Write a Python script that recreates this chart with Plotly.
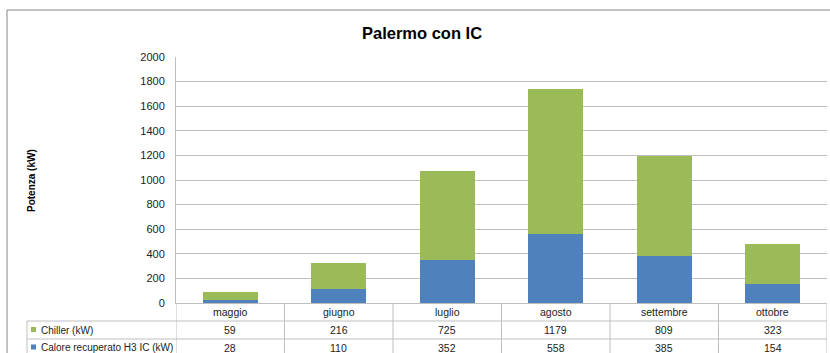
import plotly.graph_objects as go

# Monthly data (kW)
months = ["maggio", "giugno", "luglio", "agosto", "settembre", "ottobre"]
chiller = [59, 216, 725, 1179, 809, 323]
calore = [28, 110, 352, 558, 385, 154]
series_names = ["Chiller (kW)", "Calore recuperato H3 IC (kW)"]
y_ticks = [0, 200, 400, 600, 800, 1000, 1200, 1400, 1600, 1800, 2000]

GREEN = "#9BBB59"
BLUE = "#4F81BD"
GRID = "#BFBFBF"
FONT = "Liberation Sans"

W, H = 830, 353
L, R, T, B = 176, 3, 57, 50
plot_h = H - T - B
plot_w = W - L - R


def py(px_y):
    """pixel row -> paper y"""
    return (H - B - px_y) / plot_h


def px(px_x):
    """pixel column -> paper x"""
    return (px_x - L) / plot_w


fig = go.Figure()
fig.add_trace(go.Bar(x=months, y=calore, name=series_names[1],
                     marker=dict(color=BLUE, line=dict(width=0)), width=0.51))
fig.add_trace(go.Bar(x=months, y=chiller, name=series_names[0],
                     marker=dict(color=GREEN, line=dict(width=0)), width=0.51))

shapes = []
annotations = []

# data table grid below the plot
row_lines = [321, 339]
row_text = [312, 330, 347.5]
n = len(months)
for i in range(n + 1):
    shapes.append(dict(type="line", xref="x", yref="paper",
                       x0=i - 0.5, x1=i - 0.5, y0=py(303), y1=py(360),
                       line=dict(color=GRID, width=1)))
for r in row_lines:
    shapes.append(dict(type="line", xref="paper", yref="paper",
                       x0=px(27), x1=1, y0=py(r), y1=py(r),
                       line=dict(color=GRID, width=1)))
shapes.append(dict(type="line", xref="paper", yref="paper",
                   x0=px(27), x1=px(27), y0=py(321), y1=py(360),
                   line=dict(color=GRID, width=1)))

# chart frame
shapes.append(dict(type="line", xref="paper", yref="paper",
                   x0=px(7), x1=px(835), y0=py(10), y1=py(10),
                   line=dict(color="#868686", width=1)))
shapes.append(dict(type="line", xref="paper", yref="paper",
                   x0=px(7), x1=px(7), y0=py(10), y1=py(360),
                   line=dict(color="#868686", width=1)))

# legend keys in the table rows
for yc, col, name in zip(row_text[1:], [GREEN, BLUE], series_names):
    shapes.append(dict(type="rect", xref="paper", yref="paper",
                       x0=px(31), x1=px(36), y0=py(yc + 2), y1=py(yc - 3),
                       fillcolor=col, line=dict(width=0)))
    annotations.append(dict(xref="paper", yref="paper", x=px(39), y=py(yc),
                            text=name, showarrow=False,
                            xanchor="left", yanchor="middle",
                            font=dict(family=FONT, size=10, color="#222")))

# table cells
for i, m in enumerate(months):
    for yc, txt in zip(row_text, [m, str(chiller[i]), str(calore[i])]):
        annotations.append(dict(xref="x", yref="paper", x=m, y=py(yc), text=txt,
                                showarrow=False, xanchor="center", yanchor="middle",
                                font=dict(family=FONT, size=10.5, color="#222")))

# title and axis title
annotations.append(dict(xref="paper", yref="paper", x=px(422), y=py(33),
                        text="<b>Palermo con IC</b>", showarrow=False,
                        xanchor="center", yanchor="middle",
                        font=dict(family=FONT, size=16.5, color="#000")))
annotations.append(dict(xref="paper", yref="paper", x=px(31), y=py(181),
                        text="<b>Potenza (kW)</b>", showarrow=False, textangle=-90,
                        xanchor="center", yanchor="middle",
                        font=dict(family=FONT, size=10, color="#000")))

fig.update_layout(
    width=W, height=H,
    margin=dict(l=L, r=R, t=T, b=B),
    barmode="stack",
    showlegend=False,
    plot_bgcolor="white",
    paper_bgcolor="white",
    shapes=shapes,
    annotations=annotations,
    xaxis=dict(showticklabels=False, showgrid=False, zeroline=False,
               showline=True, linecolor=GRID, linewidth=1,
               range=[-0.5, n - 0.5], ticks=""),
    yaxis=dict(range=[0, 2000], tickvals=y_ticks, showgrid=True, gridcolor=GRID,
               gridwidth=1, zeroline=False, showline=True, linecolor=GRID,
               linewidth=1, ticks="", ticklabelstandoff=8,
               tickfont=dict(family=FONT, size=11, color="#222")),
)

fig.write_html("out.html")
